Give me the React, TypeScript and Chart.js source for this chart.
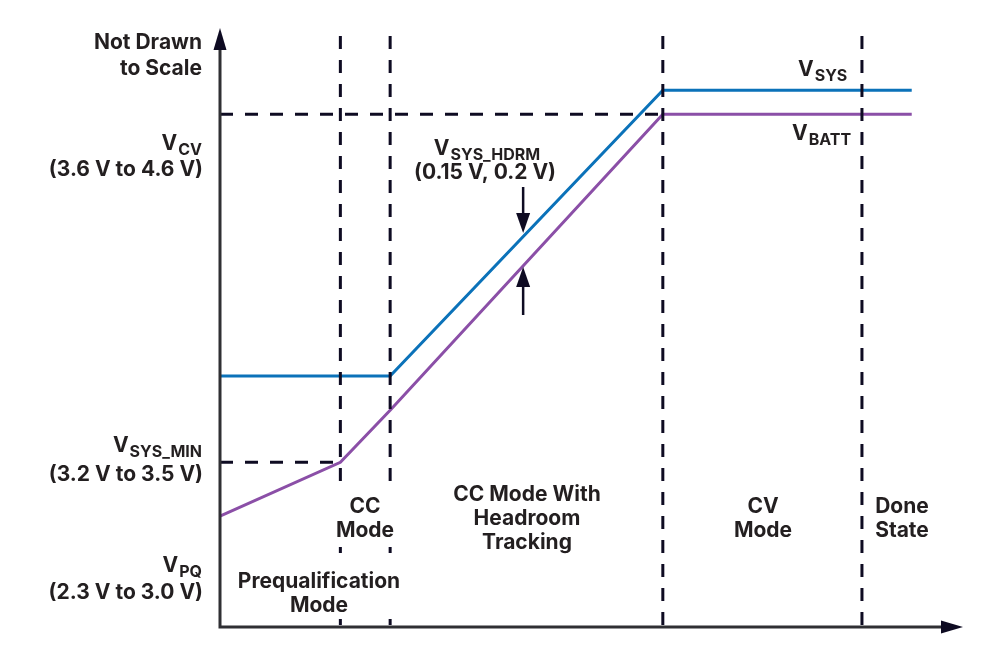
import React, { useEffect, useRef } from "react";
import { Chart, registerables } from "chart.js";

Chart.register(...registerables);

// Phase boundaries on the (unscaled) time axis, 0..100
const phaseBoundaries = [16.2, 22.9, 59.6, 86.4];
// VSYS trace (blue)
const vsysX = [0, 22.9, 59.6, 93.1];
const vsysY = [41.9, 41.9, 89.6, 89.6];
// VBATT trace (purple)
const vbattX = [0, 16.2, 22.9, 59.6, 93.1];
const vbattY = [18.5, 27.5, 36.2, 85.6, 85.6];
// Reference levels
const vcvLevel = 85.6;
const vsysMinLevel = 27.5;
const vcvEndX = 59.6;
const vsysMinEndX = 16.2;
const axisTop = 100;
// Headroom arrows
const hdrmX = 40.8;

const TEXT = "#231f20";
const DASH = "#0e0b22";
const FONT = "Inter, Roboto, sans-serif";

function drawSub(
  ctx: CanvasRenderingContext2D,
  main: string,
  sub: string,
  x: number,
  y: number,
  align: "left" | "right" | "center"
) {
  ctx.save();
  ctx.fillStyle = TEXT;
  ctx.textBaseline = "alphabetic";
  ctx.textAlign = "left";
  ctx.font = `bold 21px ${FONT}`;
  const w1 = ctx.measureText(main).width;
  ctx.font = `bold 16px ${FONT}`;
  const w2 = ctx.measureText(sub).width;
  const total = w1 + w2 + 1;
  let x0 = x;
  if (align === "right") x0 = x - total;
  else if (align === "center") x0 = x - total / 2;
  ctx.font = `bold 21px ${FONT}`;
  ctx.fillText(main, x0, y);
  ctx.font = `bold 16px ${FONT}`;
  ctx.fillText(sub, x0 + w1 + 1, y + 5);
  ctx.restore();
}

function drawText(
  ctx: CanvasRenderingContext2D,
  s: string,
  x: number,
  y: number,
  align: CanvasTextAlign
) {
  ctx.save();
  ctx.fillStyle = TEXT;
  ctx.font = `bold 21px ${FONT}`;
  ctx.textAlign = align;
  ctx.textBaseline = "alphabetic";
  ctx.fillText(s, x, y);
  ctx.restore();
}

const decorPlugin = {
  id: "decor",
  afterDraw(chart: any) {
    const ctx: CanvasRenderingContext2D = chart.ctx;
    const xs = chart.scales.x;
    const ys = chart.scales.y;
    const left = xs.getPixelForValue(0);
    const bottom = ys.getPixelForValue(0);
    const top = ys.getPixelForValue(axisTop);
    const right = chart.chartArea.right;

    // white backgrounds behind labels that sit over dashed lines
    ctx.save();
    ctx.fillStyle = "#ffffff";
    ctx.fillRect(334, 487, 62, 60);
    ctx.fillRect(230, 557, 180, 62);
    ctx.restore();

    // axes
    ctx.save();
    ctx.strokeStyle = "#2f2f33";
    ctx.lineWidth = 3;
    ctx.beginPath();
    ctx.moveTo(left, bottom);
    ctx.lineTo(left, top + 20);
    ctx.moveTo(left - 1.5, bottom);
    ctx.lineTo(right - 20, bottom);
    ctx.stroke();
    ctx.fillStyle = DASH;
    ctx.beginPath();
    ctx.moveTo(left, top);
    ctx.lineTo(left - 6.5, top + 22);
    ctx.lineTo(left + 6.5, top + 22);
    ctx.closePath();
    ctx.fill();
    ctx.beginPath();
    ctx.moveTo(right, bottom);
    ctx.lineTo(right - 22, bottom - 6.5);
    ctx.lineTo(right - 22, bottom + 6.5);
    ctx.closePath();
    ctx.fill();

    // headroom arrows
    const ax = xs.getPixelForValue(hdrmX);
    ctx.strokeStyle = DASH;
    ctx.lineWidth = 2.5;
    ctx.beginPath();
    ctx.moveTo(ax, 187);
    ctx.lineTo(ax, 216);
    ctx.moveTo(ax, 283);
    ctx.lineTo(ax, 315);
    ctx.stroke();
    ctx.beginPath();
    ctx.moveTo(ax, 233);
    ctx.lineTo(ax - 7, 213);
    ctx.lineTo(ax + 7, 213);
    ctx.closePath();
    ctx.fill();
    ctx.beginPath();
    ctx.moveTo(ax, 267);
    ctx.lineTo(ax - 7, 287);
    ctx.lineTo(ax + 7, 287);
    ctx.closePath();
    ctx.fill();
    ctx.restore();

    // y-side labels
    drawText(ctx, "Not Drawn", 202, 49, "right");
    drawText(ctx, "to Scale", 202, 75, "right");
    drawSub(ctx, "V", "CV", 202, 150, "right");
    drawText(ctx, "(3.6 V to 4.6 V)", 203, 176, "right");
    drawSub(ctx, "V", "SYS_MIN", 202, 452, "right");
    drawText(ctx, "(3.2 V to 3.5 V)", 203, 481, "right");
    drawSub(ctx, "V", "PQ", 202, 572, "right");
    drawText(ctx, "(2.3 V to 3.0 V)", 203, 599, "right");

    // phase labels
    drawText(ctx, "Prequalification", 319, 588, "center");
    drawText(ctx, "Mode", 319, 612, "center");
    drawText(ctx, "CC", 365, 513, "center");
    drawText(ctx, "Mode", 365, 537, "center");
    drawText(ctx, "CC Mode With", 527, 501, "center");
    drawText(ctx, "Headroom", 527, 525, "center");
    drawText(ctx, "Tracking", 527, 549, "center");
    drawText(ctx, "CV", 763, 513, "center");
    drawText(ctx, "Mode", 763, 537, "center");
    drawText(ctx, "Done", 902, 513, "center");
    drawText(ctx, "State", 902, 537, "center");

    // trace labels
    drawSub(ctx, "V", "SYS", 798, 76, "left");
    drawSub(ctx, "V", "BATT", 792, 140, "left");
    drawSub(ctx, "V", "SYS_HDRM", 487, 155, "center");
    drawText(ctx, "(0.15 V, 0.2 V)", 485, 179, "center");
  },
};

export default function App() {
  const ref = useRef<HTMLCanvasElement | null>(null);

  useEffect(() => {
    if (!ref.current) return;
    const dashBase = {
      borderColor: DASH,
      borderWidth: 3,
      pointRadius: 0,
      fill: false,
      tension: 0,
      clip: false as any,
    };
    const datasets: any[] = [];
    phaseBoundaries.forEach((b) => {
      datasets.push({
        ...dashBase,
        borderDash: [13, 11],
        borderDashOffset: 22,
        data: [
          { x: b, y: 0 },
          { x: b, y: axisTop },
        ],
      });
    });
    datasets.push({
      ...dashBase,
      borderDash: [13, 12],
      data: [
        { x: 0, y: vcvLevel },
        { x: vcvEndX, y: vcvLevel },
      ],
    });
    datasets.push({
      ...dashBase,
      borderDash: [13, 12],
      data: [
        { x: 0, y: vsysMinLevel },
        { x: vsysMinEndX, y: vsysMinLevel },
      ],
    });
    datasets.push({
      label: "VSYS",
      borderColor: "#0b72b9",
      borderWidth: 3,
      pointRadius: 0,
      fill: false,
      tension: 0,
      clip: false,
      data: vsysX.map((x, i) => ({ x, y: vsysY[i] })),
    });
    datasets.push({
      label: "VBATT",
      borderColor: "#8b4fa7",
      borderWidth: 3,
      pointRadius: 0,
      fill: false,
      tension: 0,
      clip: false,
      data: vbattX.map((x, i) => ({ x, y: vbattY[i] })),
    });

    const chart = new Chart(ref.current, {
      type: "line",
      data: { datasets },
      options: {
        animation: false,
        responsive: false,
        devicePixelRatio: 1,
        layout: { padding: { left: 220, right: 25, top: 28, bottom: 18 } },
        plugins: { legend: { display: false }, tooltip: { enabled: false } },
        scales: {
          x: { type: "linear", min: 0, max: 100, display: false },
          y: { type: "linear", min: 0, max: 100, display: false },
        },
      },
      plugins: [decorPlugin],
    });
    return () => chart.destroy();
  }, []);

  return (
    <div style={{ position: "absolute", left: 0, top: 0, width: 988, height: 645, background: "#fff" }}>
      <canvas ref={ref} width={988} height={645} style={{ width: 988, height: 645, display: "block" }} />
    </div>
  );
}
